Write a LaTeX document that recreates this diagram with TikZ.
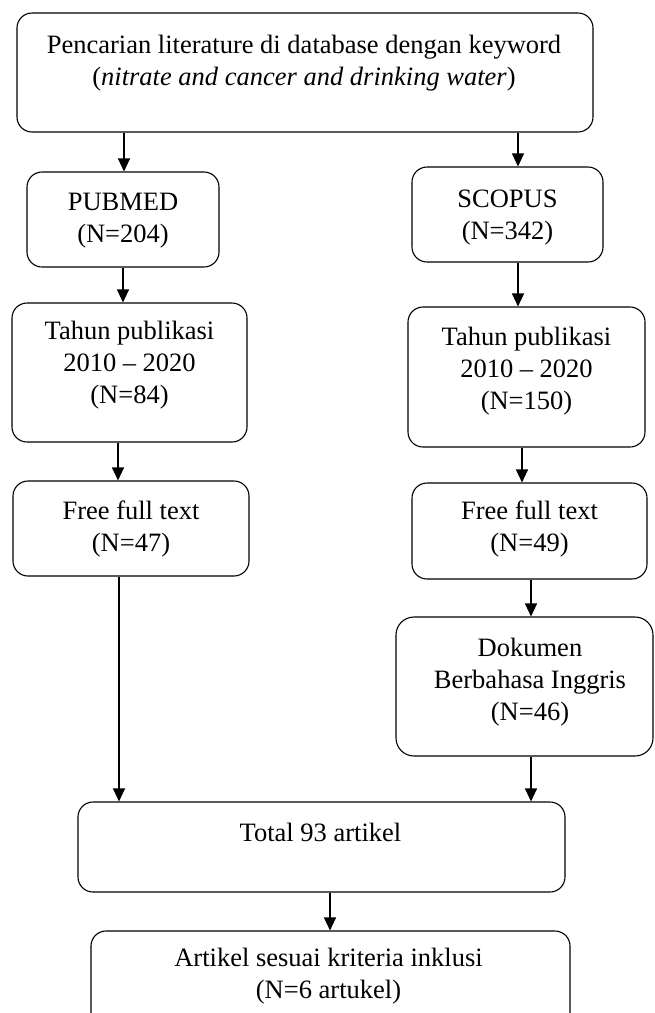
\documentclass[tikz,border=0pt]{standalone}
\usepackage{fontspec}
\setmainfont{Liberation Serif}
\usetikzlibrary{arrows.meta,positioning}
\tikzstyle{box}   = [draw=black, line width=1.1pt, rounded corners=15pt, inner sep=0pt]
\tikzstyle{txt}   = [align=center, inner sep=0pt, font=\fontsize{26.5}{32}\selectfont]
\tikzstyle{arrow} = [line width=1.1pt, -{Triangle[length=13pt,width=12pt]}]

\begin{document}
\begin{tikzpicture}[x=1pt, y=-1pt]
		\clip (0,0) rectangle (654,1013);
		\node[box, minimum width=576pt, minimum height=119pt] (search) at (305,72.5) {};
		\node[box, minimum width=192pt, minimum height=95pt] (pubmed) at (123,219.5) {};
		\node[box, minimum width=191pt, minimum height=95pt] (scopus) at (507.5,214.5) {};
		\node[box, minimum width=235pt, minimum height=139pt] (pubyear-pm) at (129.5,372.5) {};
		\node[box, minimum width=237pt, minimum height=140pt] (pubyear-sc) at (526.5,377) {};
		\node[box, minimum width=236pt, minimum height=95pt] (fulltext-pm) at (131,528.5) {};
		\node[box, minimum width=235pt, minimum height=96pt] (fulltext-sc) at (529.5,531) {};
		\node[box, minimum width=257pt, minimum height=139pt, rounded corners=18pt] (english-sc) at (524.5,686.5) {};
		\node[box, minimum width=487pt, minimum height=90pt] (total) at (321.5,847) {};
		\node[box, minimum width=479pt, minimum height=109pt] (included) at (330.5,985.5) {};

		\node[txt] (search-t) at (304,63) {Pencarian literature di database dengan keyword\\(\textit{nitrate and cancer and drinking water})};
		\node[txt] (pubmed-t) at (123,220.5) {PUBMED\\(N=204)};
		\node[txt] (scopus-t) at (507.5,217.5) {SCOPUS\\(N=342)};
		\node[txt] (pubyear-pm-t) at (129.5,365) {Tahun publikasi\\2010 -- 2020\\(N=84)};
		\node[txt] (pubyear-sc-t) at (526.5,371.5) {Tahun publikasi\\2010 -- 2020\\(N=150)};
		\node[txt] (fulltext-pm-t) at (131,528.5) {Free full text\\(N=47)};
		\node[txt] (fulltext-sc-t) at (529.5,529) {Free full text\\(N=49)};
		\node[txt] (english-sc-t) at (530,682) {Dokumen\\Berbahasa Inggris\\(N=46)};
		\node[txt] (total-t) at (320.5,832) {Total 93 artikel};
		\node[txt] (included-t) at (328.5,976.5) {Artikel sesuai kriteria inklusi\\(N=6 artukel)};

		\draw[arrow] (search.south -| 124,0) -- (pubmed.north -| 124,0);
		\draw[arrow] (search.south -| 518,0) -- (scopus.north -| 518,0);
		\draw[arrow] (pubmed.south -| 123,0) -- (pubyear-pm.north -| 123,0);
		\draw[arrow] (scopus.south -| 518,0) -- (pubyear-sc.north -| 518,0);
		\draw[arrow] (pubyear-pm.south -| 118,0) -- (fulltext-pm.north -| 118,0);
		\draw[arrow] (pubyear-sc.south -| 522,0) -- (fulltext-sc.north -| 522,0);
		\draw[arrow] (fulltext-sc.south -| 531,0) -- (english-sc.north -| 531,0);
		\draw[arrow] (fulltext-pm.south -| 119,0) -- (total.north -| 119,0);
		\draw[arrow] (english-sc.south -| 531,0) -- (total.north -| 531,0);
		\draw[arrow] (total.south -| 330,0) -- (included.north -| 330,0);
	\end{tikzpicture}
\end{document}
